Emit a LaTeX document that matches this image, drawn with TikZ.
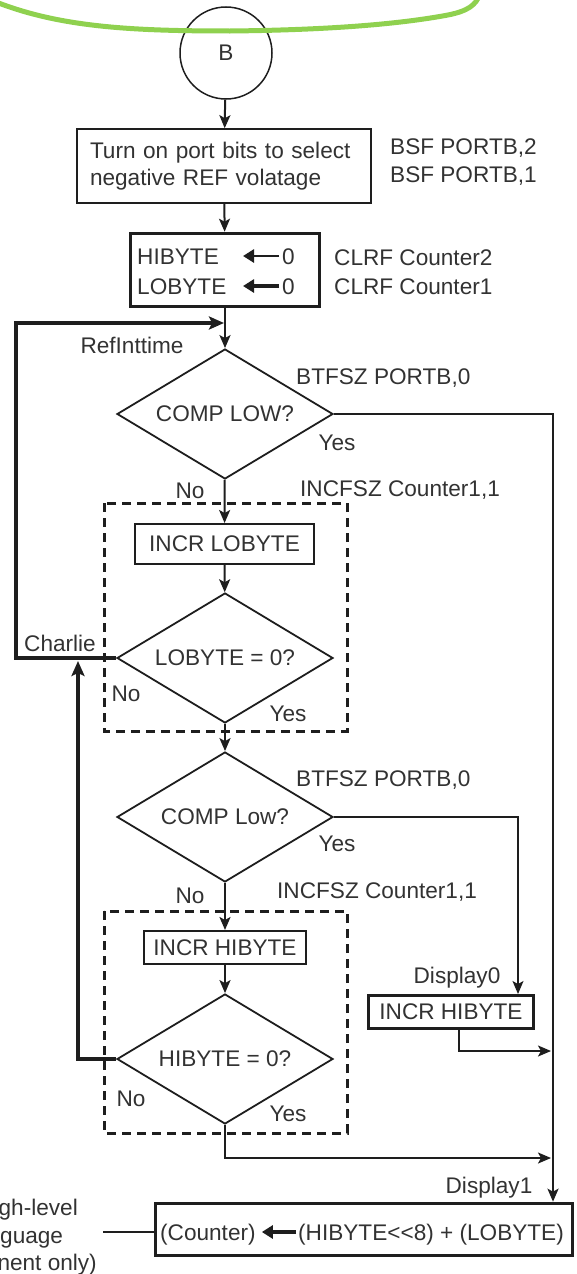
\documentclass[tikz,border=0pt]{standalone}
\usepackage{fontspec}
\setmainfont{Liberation Sans}
\usetikzlibrary{shapes.geometric,arrows.meta}
\definecolor{ink}{RGB}{30,30,30}
\definecolor{txt}{RGB}{50,50,50}
\definecolor{grn}{RGB}{143,209,79}
\begin{document}
\begin{tikzpicture}[x=1pt,y=-1pt,
  every node/.style={text=txt, font=\fontsize{22.6}{27}\selectfont},
  box/.style={draw=ink, rectangle, inner sep=0pt, line width=1.6pt},
  tbox/.style={box, line width=3.6pt},
  dia/.style={draw=ink, diamond, shape aspect=1.66, inner sep=0pt, line width=1.8pt, minimum width=216pt, minimum height=130pt},
  lbl/.style={inner sep=0pt, text height=17pt, text depth=1pt},
  conn/.style={draw=ink, line width=2pt, -{Stealth[length=13pt,width=11pt,inset=3pt]}},
  thinconn/.style={conn, line width=1.4pt},
  loopc/.style={draw=ink, line width=3.5pt, -{Stealth[length=15pt,width=13pt,inset=3pt]}},
  plain/.style={draw=ink, line width=2pt},
  inarrow/.style={draw=ink, -{Triangle[length=11pt,width=13pt]}},
  dashbox/.style={draw=ink, line width=3pt, dash pattern=on 9pt off 6pt}
]
\useasboundingbox (0,0) rectangle (576,1274);

% nodes
\node[circle, draw=ink, line width=1.5pt, minimum size=92pt, inner sep=0pt] (B) at (226,53) {B};
\node[box, minimum width=294pt, minimum height=74pt, text width=268pt, align=left] (set) at (224,166) {Turn on port bits to select\\negative REF volatage};
\node[lbl, anchor=west] (bsf2) at (390,146) {BSF PORTB,2};
\node[lbl, anchor=west] (bsf1) at (390,174) {BSF PORTB,1};

\node[tbox, minimum width=189pt, minimum height=73pt] (clr) at (225,270) {};
\node[lbl, anchor=west] (hi) at (137,256) {HIBYTE};
\node[lbl, anchor=west] (lo) at (137,286) {LOBYTE};
\node[lbl, anchor=west] (hi0) at (282,256) {0};
\node[lbl, anchor=west] (lo0) at (282,286) {0};
\draw[inarrow, line width=2.8pt] ([xshift=-3pt]hi0.west) -- (243,256);
\draw[inarrow, line width=4pt] ([xshift=-3pt]lo0.west) -- (243,286);
\node[lbl, anchor=west] (clrf2) at (334,257) {CLRF Counter2};
\node[lbl, anchor=west] (clrf1) at (334,286) {CLRF Counter1};

\node[dia] (d1) at (225,414) {COMP LOW?};
\node[box, line width=2pt, minimum width=179pt, minimum height=40pt] (ilo) at (224.5,544) {INCR LOBYTE};
\node[dia] (d2) at (225,658) {LOBYTE = 0?};
\node[dia] (d3) at (225,817) {COMP Low?};
\node[box, line width=2pt, minimum width=162pt, minimum height=33pt] (ihi) at (225,947.5) {INCR HIBYTE};
\node[dia] (d4) at (225,1059) {HIBYTE = 0?};
\node[tbox, line width=3pt, minimum width=165pt, minimum height=33pt] (ihr) at (451,1012) {INCR HIBYTE};

\node[tbox, minimum width=417pt, minimum height=52pt] (tot) at (364,1229.5) {};
\node[lbl, anchor=west] (tc) at (160,1232) {(Counter)};
\node[lbl, anchor=west] (th) at (298,1232) {(HIBYTE<\kern0pt <\kern0pt 8) + (LOBYTE)};
\draw[inarrow, line width=4pt] ([xshift=-2pt]th.west) -- ([xshift=6pt]tc.east);

% labels
\node[lbl] (ref) at (132,345) {RefInttime};
\node[lbl, anchor=west] (bt1) at (296,376) {BTFSZ PORTB,0};
\node[lbl] (y1) at (337,442) {Yes};
\node[lbl] (n1) at (190,490) {No};
\node[lbl, anchor=west] (inc1) at (300,488) {INCFSZ Counter1,1};
\node[lbl] (ch) at (60,643) {Charlie};
\node[lbl] (n2) at (126,693) {No};
\node[lbl] (y2) at (288,713) {Yes};
\node[lbl, anchor=west] (bt2) at (296,778) {BTFSZ PORTB,0};
\node[lbl] (y3) at (337,843) {Yes};
\node[lbl] (n3) at (190,895) {No};
\node[lbl, anchor=west] (inc2) at (277,890) {INCFSZ Counter1,1};
\node[lbl] (n4) at (131,1098) {No};
\node[lbl] (y4) at (288,1113) {Yes};
\node[lbl] (dp0) at (457,975) {Display0};
\node[lbl] (dp1) at (489,1185) {Display1};
\node[lbl, anchor=east] (t1) at (78,1207) {gh-level};
\node[lbl, anchor=west] (t2) at (0,1235) {guage};
\node[lbl, anchor=east] (t3) at (97,1262) {nent only)};

% dashed groups
\draw[dashbox] (104,503) rectangle (347,731);
\draw[dashbox] (104,911) rectangle (347,1133);

% coordinates
\coordinate (ctop) at (16,323);
\coordinate (cl) at (16,658);
\coordinate (join) at (224,323);
\coordinate (r1) at (553,414);
\coordinate (r2) at (518,817);
\coordinate (c4) at (78,1059);
\coordinate (c4up) at (78,661);
\coordinate (c5) at (225,1158);
\coordinate (c6) at (551,1158);
\coordinate (c7) at (459,1051);
\coordinate (c8) at (551,1051);
\coordinate (lt) at (103,1232);

% connectors
\draw[conn] (B) -- (set);
\draw[conn] (set) -- (clr);
\draw[conn] (clr) -- (d1);
\draw[loopc] (d2.west) -- (cl) -- (ctop) -- (join);
\draw[conn] (d1) -- (ilo);
\draw[conn] (ilo) -- (d2);
\draw[conn] (d2) -- (d3);
\draw[conn] (d3) -- (ihi);
\draw[conn] (ihi) -- (d4);
\draw[conn, line width=2.3pt] (d1.east) -- (r1) -- (r1 |- tot.north);
\draw[thinconn] (d3.east) -- (r2) -- (r2 |- ihr.north);
\draw[loopc] (d4.west) -- (c4) -- (c4up);
\draw[conn] (d4.south) -- (c5) -- (c6);
\draw[conn] (c7 |- ihr.south) -- (c7) -- (c8);
\draw[plain] (lt) -- (lt -| tot.west);

% green highlight stroke
\draw[grn, line width=5pt, line cap=round] (-4,2) .. controls (60,27) and (130,31) .. (230,31) .. controls (330,30) and (400,24) .. (448,15) .. controls (468,11) and (476,5) .. (480,-6);
\end{tikzpicture}
\end{document}
